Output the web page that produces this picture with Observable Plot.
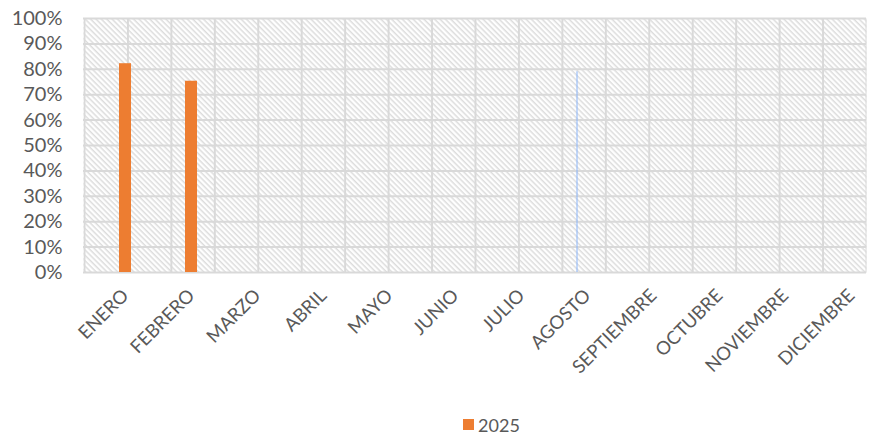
<!DOCTYPE html>
<html>
<head>
<meta charset="utf-8">
<script src="https://cdn.jsdelivr.net/npm/d3@7"></script>
<script src="https://cdn.jsdelivr.net/npm/@observablehq/plot@0.6"></script>
<style>
  html, body { margin: 0; padding: 0; background: #fff; }
  body { width: 871px; height: 437px; overflow: hidden; font-family: Lato, "Open Sans", sans-serif; }
  #legend { height: 25px; display: flex; align-items: center; justify-content: center; padding-left: 112px; box-sizing: border-box; color: #595959; font-size: 18px; }
  #legend .sw { display: inline-block; width: 11px; height: 11px; background: #ED7D31; margin-right: 4px; }
</style>
</head>
<body>
<div id="chart"></div>
<div id="legend"><span class="sw"></span><span id="legend-label"></span></div>
<script>
const meses = ["ENERO", "FEBRERO", "MARZO", "ABRIL", "MAYO", "JUNIO", "JULIO", "AGOSTO", "SEPTIEMBRE", "OCTUBRE", "NOVIEMBRE", "DICIEMBRE"];
const serie = "2025";
const valores2025 = [0.822, 0.753, null, null, null, null, null, null, null, null, null, null];
const yTicks = [0, 0.1, 0.2, 0.3, 0.4, 0.5, 0.6, 0.7, 0.8, 0.9, 1.0];
const marcaMes = ["AGOSTO"];
const marcaValor = [0.79];

const data = meses.map((m, i) => ({mes: m, valor: valores2025[i]}));
const marca = marcaMes.map((m, i) => ({mes: m, valor: marcaValor[i]}));

document.getElementById("legend-label").textContent = serie;

const defs = () => {
  const d = d3.create("svg:defs");
  const p = d.append("pattern").attr("id", "hatch").attr("patternUnits", "userSpaceOnUse")
    .attr("width", 3.8).attr("height", 3.8).attr("patternTransform", "rotate(-45)");
  p.append("rect").attr("width", 3.8).attr("height", 3.8).attr("fill", "#ffffff");
  p.append("line").attr("x1", 1.2).attr("x2", 1.2).attr("y1", 0).attr("y2", 3.8)
    .attr("stroke", "#dcdcdc").attr("stroke-width", 1.5);
  const v = d.append("pattern").attr("id", "vgrid").attr("patternUnits", "userSpaceOnUse")
    .attr("x", 83).attr("y", 0).attr("width", 782 / 18).attr("height", 10);
  v.append("line").attr("x1", 1).attr("x2", 1).attr("y1", 0).attr("y2", 10)
    .attr("stroke", "#d9d9d9").attr("stroke-width", 2);
  return d.node();
};

const chart = Plot.plot({
  width: 871,
  height: 412,
  marginTop: 18,
  marginBottom: 140,
  marginLeft: 83,
  marginRight: 5,
  style: {fontFamily: "Lato, 'Open Sans', sans-serif", background: "#fff"},
  x: {domain: meses, range: [91, 884], padding: 0},
  y: {domain: [0, 1]},
  marks: [
    defs,
    Plot.frame({fill: "url(#hatch)", stroke: null}),
    Plot.frame({fill: "url(#vgrid)", stroke: null}),
    Plot.ruleY(yTicks, {stroke: "#d9d9d9", strokeWidth: 2}),
    Plot.barY(data, {x: "mes", y: "valor", fill: "#ED7D31", insetLeft: 27, insetRight: 27}),
    Plot.ruleX(marca, {x: "mes", y1: 0, y2: "valor", dx: -10.5, stroke: "#8ab4f8", strokeWidth: 1}),
    Plot.axisY({ticks: yTicks, tickFormat: d3.format(".0%"), tickSize: 0, tickPadding: 21, fontSize: 20, color: "#595959", label: null}),
    Plot.axisX({tickRotate: -45, tickSize: 0, tickPadding: 20, fontSize: 18.5, color: "#595959", label: null})
  ]
});
document.getElementById("chart").appendChild(chart);
</script>
</body>
</html>
